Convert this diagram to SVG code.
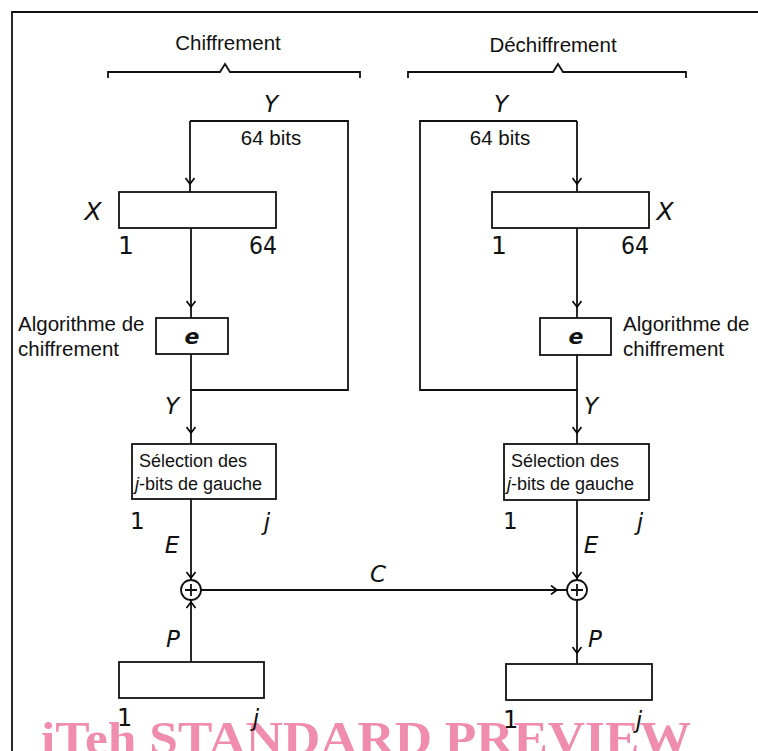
<svg xmlns="http://www.w3.org/2000/svg" width="758" height="751" viewBox="0 0 758 751">
<defs>
<marker id="ah" viewBox="-7 -5 8 10" markerWidth="8" markerHeight="10" markerUnits="userSpaceOnUse" orient="auto" refX="0" refY="0">
<path d="M-6,-4.5 L0,0 L-6,4.5" fill="none" stroke="#000" stroke-width="1.6"/>
</marker>
<style>
.ln{fill:none;stroke:#111;stroke-width:1.8}
.bx{fill:#fff;stroke:#111;stroke-width:1.8}
.ar{fill:none;stroke:#111;stroke-width:1.8;marker-mid:url(#ah)}
.t{font-family:"Liberation Sans",Arial,sans-serif;font-size:20.5px;fill:#111}
.s{font-family:"Liberation Sans",Arial,sans-serif;font-size:18px;fill:#111}
.i{font-family:"DejaVu Sans","Liberation Sans",sans-serif;font-style:italic;font-size:23px;fill:#111}
.d{font-family:"DejaVu Sans","Liberation Sans",sans-serif;font-size:25px;fill:#111}
.wm{font-family:"Liberation Serif","Times New Roman",serif;font-weight:bold;font-size:46px;fill:#f08cae}
</style>
</defs>
<rect width="758" height="751" fill="#fff"/>
<text class="wm" x="41" y="754" textLength="650" lengthAdjust="spacingAndGlyphs">iTeh STANDARD PREVIEW</text>
<path class="ln" d="M12,751 L12,12 L758,12"/>

<g id="braces">
<path class="ln" d="M108,78 L108,72 L220,72 L225,64 L230,72 L360,72 L360,78"/>
<path class="ln" d="M408,78 L408,72 L553,72 L558,64 L563,72 L686,72 L686,78"/>
<text class="t" x="228" y="50" text-anchor="middle">Chiffrement</text>
<text class="t" x="553" y="52" text-anchor="middle">Déchiffrement</text>
</g>

<g id="connectors">
<path class="ln" d="M191,390 L348,390 L348,121 L190,121"/>
<polyline class="ar" points="190,121 190,184 190,192"/>
<polyline class="ar" points="191,228 191,307 191,318"/>
<polyline class="ar" points="191,354 191,433 191,444"/>
<polyline class="ar" points="191,499 191,578 191,580"/>
<polyline class="ar" points="191,662 191,602 191,600"/>
<polyline class="ar" points="201,590 557,590 567,590"/>
<path class="ln" d="M577,390 L420,390 L420,121 L577,121"/>
<polyline class="ar" points="577,121 577,184 577,192"/>
<polyline class="ar" points="577,228 577,307 577,318"/>
<polyline class="ar" points="577,355 577,433 577,444"/>
<polyline class="ar" points="577,500 577,578 577,580"/>
<polyline class="ar" points="577,600 577,653 577,664"/>
</g>

<g id="left-labels">
<text class="i" x="271" y="112" text-anchor="middle">Y</text>
<text class="t" x="271" y="145" text-anchor="middle">64 bits</text>
<text class="i" x="172" y="414" text-anchor="middle">Y</text>
<text class="i" x="172" y="553" text-anchor="middle">E</text>
<text class="i" x="378" y="582" text-anchor="middle">C</text>
<text class="i" x="173" y="647" text-anchor="middle">P</text>
</g>

<g id="right-labels">
<text class="i" x="501" y="112" text-anchor="middle">Y</text>
<text class="t" x="500" y="145" text-anchor="middle">64 bits</text>
<text class="i" x="591" y="414" text-anchor="middle">Y</text>
<text class="i" x="591" y="553" text-anchor="middle">E</text>
<text class="i" x="595" y="647" text-anchor="middle">P</text>
</g>

<g id="x-left">
<rect class="bx" x="119" y="192" width="157" height="36"/>
<text class="i" x="93" y="220" text-anchor="middle" style="font-size:25px">X</text>
<text class="d" x="118" y="254">1</text>
<text class="d" x="249" y="254" textLength="28" lengthAdjust="spacingAndGlyphs">64</text>
</g>
<g id="e-left">
<rect class="bx" x="156" y="318" width="72" height="36"/>
<text class="i" x="192" y="344" text-anchor="middle" style="font-weight:bold;font-size:22px">e</text>
<text class="t" x="18" y="331">Algorithme de</text>
<text class="t" x="18" y="356">chiffrement</text>
</g>
<g id="sel-left">
<rect class="bx" x="132" y="444" width="144" height="55"/>
<text class="s" x="139" y="467">Sélection des</text>
<text class="s" x="135" y="490"><tspan font-style="italic">j</tspan>-bits de gauche</text>
<text class="d" x="130" y="529" style="font-size:23px">1</text>
<text class="i" x="267" y="530" text-anchor="middle">j</text>
</g>
<g id="xor-left">
<circle class="bx" cx="191" cy="590" r="10"/>
<path class="ln" d="M185,590 L197,590 M191,584 L191,596"/>
</g>
<g id="p-left">
<rect class="bx" x="119" y="662" width="145" height="36"/>
<text class="d" x="117" y="726" style="font-size:24px">1</text>
<text class="i" x="256" y="726" text-anchor="middle">j</text>
</g>

<g id="x-right">
<rect class="bx" x="492" y="192" width="157" height="36"/>
<text class="i" x="665" y="220" text-anchor="middle" style="font-size:25px">X</text>
<text class="d" x="491" y="254">1</text>
<text class="d" x="621" y="254" textLength="28" lengthAdjust="spacingAndGlyphs">64</text>
</g>
<g id="e-right">
<rect class="bx" x="540" y="318" width="71" height="37"/>
<text class="i" x="576" y="344" text-anchor="middle" style="font-weight:bold;font-size:22px">e</text>
<text class="t" x="623" y="331">Algorithme de</text>
<text class="t" x="623" y="356">chiffrement</text>
</g>
<g id="sel-right">
<rect class="bx" x="504" y="444" width="145" height="56"/>
<text class="s" x="511" y="467">Sélection des</text>
<text class="s" x="507" y="490"><tspan font-style="italic">j</tspan>-bits de gauche</text>
<text class="d" x="503" y="529" style="font-size:23px">1</text>
<text class="i" x="640" y="530" text-anchor="middle">j</text>
</g>
<g id="xor-right">
<circle class="bx" cx="577" cy="590" r="10"/>
<path class="ln" d="M571,590 L583,590 M577,584 L577,596"/>
</g>
<g id="p-right">
<rect class="bx" x="506" y="664" width="146" height="36"/>
<text class="d" x="503" y="728" style="font-size:24px">1</text>
<text class="i" x="639" y="728" text-anchor="middle">j</text>
</g>
</svg>
